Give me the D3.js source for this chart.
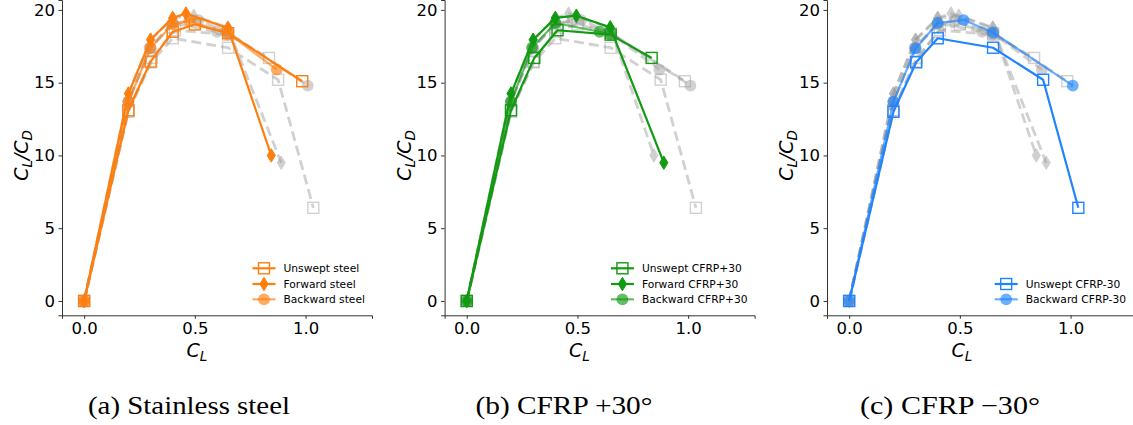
<!DOCTYPE html>
<html>
<head>
<meta charset="utf-8">
<script src="https://cdn.jsdelivr.net/npm/d3@7"></script>
<style>
  html, body { margin: 0; padding: 0; background: #fff; }
  svg { display: block; }
  text { font-family: "DejaVu Sans", sans-serif; fill: #000; }
</style>
</head>
<body>
<svg id="fig" width="1133" height="425"></svg>
<script>
// Lift-to-drag ratio versus lift coefficient for swept / unswept wings
const unsweptSteelCL  = [0, 0.2, 0.3, 0.4, 0.5, 0.65, 0.985];
const unsweptSteelLD  = [0, 13.1, 16.45, 18.5, 19.0, 18.4, 15.1];
const forwardSteelCL  = [0, 0.2, 0.3, 0.4, 0.46, 0.65, 0.845];
const forwardSteelLD  = [0, 14.25, 17.95, 19.45, 19.75, 18.75, 10.0];
const backwardSteelCL = [0, 0.2, 0.3, 0.4, 0.475, 0.65, 0.87];
const backwardSteelLD = [0, 13.7, 17.4, 19.0, 19.25, 18.4, 15.9];

const unsweptP30CL  = [0, 0.2, 0.305, 0.41, 0.65, 0.835];
const unsweptP30LD  = [0, 13.1, 16.7, 18.6, 18.3, 16.7];
const forwardP30CL  = [0, 0.2, 0.3, 0.4, 0.495, 0.648, 0.89];
const forwardP30LD  = [0, 14.25, 17.95, 19.45, 19.6, 18.8, 9.5];
const backwardP30CL = [0, 0.2, 0.295, 0.4, 0.6, 0.648];
const backwardP30LD = [0, 13.7, 17.4, 19.1, 18.5, 18.3];

const unsweptM30CL  = [0, 0.2, 0.303, 0.4, 0.65, 0.876, 1.035];
const unsweptM30LD  = [0, 13.0, 16.4, 18.05, 17.4, 15.2, 6.4];
const backwardM30CL = [0, 0.2, 0.3, 0.4, 0.517, 0.65, 1.01];
const backwardM30LD = [0, 13.7, 17.35, 19.1, 19.3, 18.45, 14.8];

const xTicks = [0.0, 0.5, 1.0];
const yTicks = [0, 5, 10, 15, 20];
const captions = ["(a) Stainless steel", "(b) CFRP +30\u00B0", "(c) CFRP \u221230\u00B0"];

const zip = (xs, ys) => xs.map((x, i) => ({ x, y: ys[i] }));

const groups = [
  { color: "#ff7f0e", series: [
    { name: "Unswept steel",  kind: "square",  pts: zip(unsweptSteelCL, unsweptSteelLD) },
    { name: "Forward steel",  kind: "diamond", pts: zip(forwardSteelCL, forwardSteelLD) },
    { name: "Backward steel", kind: "circle",  pts: zip(backwardSteelCL, backwardSteelLD) } ] },
  { color: "#129a12", series: [
    { name: "Unswept CFRP+30",  kind: "square",  pts: zip(unsweptP30CL, unsweptP30LD) },
    { name: "Forward CFRP+30",  kind: "diamond", pts: zip(forwardP30CL, forwardP30LD) },
    { name: "Backward CFRP+30", kind: "circle",  pts: zip(backwardP30CL, backwardP30LD) } ] },
  { color: "#1f84ff", series: [
    { name: "Unswept CFRP-30",  kind: "square",  pts: zip(unsweptM30CL, unsweptM30LD) },
    { name: "Backward CFRP-30", kind: "circle",  pts: zip(backwardM30CL, backwardM30LD) } ] }
];

const svg = d3.select("#fig");
const panelW = 310, panelTop = 0, panelBottom = 315.3;
const panelLefts = [62, 444.6, 827];
const captionX = [189, 564, 950];
const captionW = [202, 177, 180];

function diamondPath(cx, cy, h) {
  const w = h * 0.6;
  return `M${cx},${cy - h / 2}L${cx + w / 2},${cy}L${cx},${cy + h / 2}L${cx - w / 2},${cy}Z`;
}

function drawMarker(g, kind, cx, cy, color, opacity) {
  if (kind === "square") {
    g.append("rect").attr("x", cx - 5.5).attr("y", cy - 5.5)
      .attr("width", 11).attr("height", 11)
      .attr("fill", "none").attr("stroke", color).attr("stroke-width", 1.4)
      .attr("opacity", opacity);
  } else if (kind === "diamond") {
    g.append("path").attr("d", diamondPath(cx, cy, 13.5))
      .attr("fill", color).attr("stroke", color).attr("stroke-width", 1)
      .attr("opacity", opacity);
  } else {
    g.append("circle").attr("cx", cx).attr("cy", cy).attr("r", 5.9)
      .attr("fill", color).attr("opacity", opacity);
  }
}

function drawSeries(g, s, x, y, color, style) {
  const line = d3.line().x(d => x(d.x)).y(d => y(d.y));
  const path = g.append("path").datum(s.pts).attr("d", line)
    .attr("fill", "none").attr("stroke", color)
    .attr("stroke-linejoin", "round");
  if (style === "gray") {
    path.attr("stroke-width", 2.8).attr("stroke-dasharray", "10,5").attr("opacity", 0.45);
  } else {
    path.attr("stroke-width", 2.2).attr("opacity", s.kind === "circle" ? 0.65 : 1);
  }
  const mg = g.append("g");
  const op = style === "gray" ? 0.45 : (s.kind === "circle" ? 0.65 : 1);
  s.pts.forEach(p => drawMarker(mg, s.kind, x(p.x), y(p.y), color, op));
}

groups.forEach((grp, gi) => {
  const left = panelLefts[gi];
  const x = d3.scaleLinear().domain([-0.1, 1.3]).range([left, left + panelW]);
  const y = d3.scaleLinear().domain([-0.985, 20.68]).range([panelBottom, panelTop]);
  const g = svg.append("g");

  // other materials as faded dashed references
  const grayG = g.append("g");
  groups.forEach((other, oi) => {
    if (oi === gi) return;
    other.series.forEach(s => drawSeries(grayG, s, x, y, "#999999", "gray"));
  });

  const colG = g.append("g");
  grp.series.forEach(s => drawSeries(colG, s, x, y, grp.color, "color"));

  // axes (left and bottom spines only)
  const xAxis = g.append("g").attr("transform", `translate(0,${panelBottom})`)
    .call(d3.axisBottom(x).tickValues(xTicks).tickFormat(d3.format(".1f")).tickSize(3.5).tickPadding(3));
  const yAxis = g.append("g").attr("transform", `translate(${left},0)`)
    .call(d3.axisLeft(y).tickValues(yTicks).tickFormat(d3.format("d")).tickSize(3.5).tickPadding(3.5));
  [xAxis, yAxis].forEach(a => {
    a.select(".domain").attr("stroke", "#333").attr("stroke-width", 1);
    a.selectAll(".tick line").attr("stroke", "#333").attr("stroke-width", 1);
    a.selectAll(".tick text").attr("font-size", 16.5).attr("font-family", "DejaVu Sans").attr("fill", "#000");
  });

  // axis titles
  const xl = g.append("text").attr("x", x(0.5) + 2).attr("y", 357)
    .attr("text-anchor", "middle").attr("font-size", 19);
  xl.append("tspan").attr("font-style", "italic").text("C");
  xl.append("tspan").attr("font-style", "italic").attr("font-size", 13.5).attr("dy", 4).text("L");

  const yl = g.append("text")
    .attr("transform", `translate(${left - 34},${y(10)}) rotate(-90)`)
    .attr("text-anchor", "middle").attr("font-size", 19);
  yl.append("tspan").attr("font-style", "italic").text("C");
  yl.append("tspan").attr("font-style", "italic").attr("font-size", 13.5).attr("dy", 4).text("L");
  yl.append("tspan").attr("font-style", "italic").attr("dy", -4).text("/C");
  yl.append("tspan").attr("font-style", "italic").attr("font-size", 13.5).attr("dy", 4).text("D");

  // legend, bottom right
  const n = grp.series.length;
  const rowYs = n === 3 ? [268.3, 284, 299.3] : [284, 299.3];
  const lg = g.append("g");
  const texts = grp.series.map((s, i) => lg.append("text")
    .attr("y", rowYs[i]).attr("dy", "0.35em").attr("font-size", 10.7).text(s.name));
  const maxW = d3.max(texts, t => t.node().getComputedTextLength());
  const right = Math.min(left + panelW, 1133) - 7;
  const textX = right - maxW;
  const lineX0 = textX - 31, lineX1 = textX - 8;
  grp.series.forEach((s, i) => {
    texts[i].attr("x", textX);
    const op = s.kind === "circle" ? 0.65 : 1;
    lg.append("line").attr("x1", lineX0).attr("x2", lineX1)
      .attr("y1", rowYs[i]).attr("y2", rowYs[i])
      .attr("stroke", grp.color).attr("stroke-width", 2.2).attr("opacity", op);
    drawMarker(lg, s.kind, (lineX0 + lineX1) / 2, rowYs[i], grp.color, op);
  });

  // caption
  svg.append("text").attr("x", captionX[gi]).attr("y", 414)
    .attr("text-anchor", "middle")
    .attr("textLength", captionW[gi]).attr("lengthAdjust", "spacingAndGlyphs")
    .style("font-family", "'Liberation Serif', 'Times New Roman', serif")
    .attr("font-size", 25.5).text(captions[gi]);
});
</script>
</body>
</html>
